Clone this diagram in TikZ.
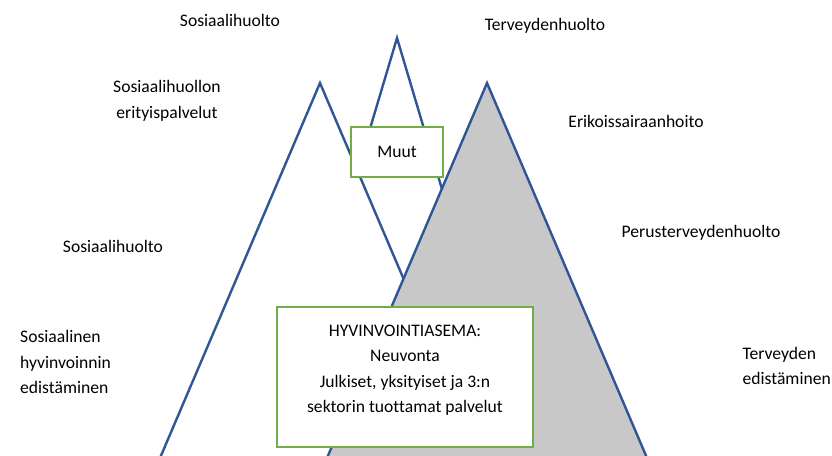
\documentclass[tikz,border=0pt]{standalone}
\usepackage{fontspec}
\setmainfont{Carlito}[Ligatures=CommonOff]
\usetikzlibrary{calc}
\definecolor{triblue}{RGB}{47,85,151}
\definecolor{boxgreen}{RGB}{112,173,71}
\definecolor{trigray}{RGB}{200,200,200}
\tikzset{tri/.style={draw=triblue,line width=2.4pt}}
\tikzset{gbox/.style={draw=boxgreen,line width=2.2pt,fill=white,inner sep=0pt}}
\tikzset{l/.style={font=\fontsize{17.6}{25.5}\selectfont,inner sep=0pt}}

\begin{document}
\begin{tikzpicture}[x=1pt,y=-1pt]
  \useasboundingbox (0,0) rectangle (832,455);
  % kolmiot
  \coordinate (muuttop) at (397,38);
  \coordinate (sostop) at (320,83);
  \coordinate (tertop) at (487,83);
  \filldraw[tri,fill=white] (muuttop) -- (522,458) -- (272,458) -- cycle;
  \filldraw[tri,fill=white] (sostop) -- (480,458) -- (160,458) -- cycle;
  \filldraw[tri,fill=trigray] (tertop) -- (647,458) -- (327,458) -- cycle;
  % laatikot
  \node[gbox,l,minimum width=92,minimum height=50] (muut) at (397,152) {Muut};
  \node[gbox,minimum width=256,minimum height=140] (asema) at (405,377) {};
  \node[l,align=center] (asematxt) at ($(asema.center)+(0,-7)$)
    {HYVINVOINTIASEMA:\\Neuvonta\\Julkiset, yksityiset ja 3:n\\sektorin tuottamat palvelut};
  % tekstit
  \node[l] (soshuolto) at (230,20) {Sosiaalihuolto};
  \node[l,align=center] (soserit) at (167,101) {Sosiaalihuollon\\erityispalvelut};
  \node[l] (terhuolto) at (545,26) {Terveydenhuolto};
  \node[l] (erikois) at (636,121) {Erikoissairaanhoito};
  \node[l] (perus) at (701,233) {Perusterveydenhuolto};
  \node[l] (soshuolto2) at (113,246) {Sosiaalihuolto};
  \node[l,align=left,anchor=west] (sosedist) at (20,362) {Sosiaalinen\\hyvinvoinnin\\edistäminen};
  \node[l,align=left,anchor=east] (teredist) at (831,366) {Terveyden\\edistäminen};
\end{tikzpicture}
\end{document}
